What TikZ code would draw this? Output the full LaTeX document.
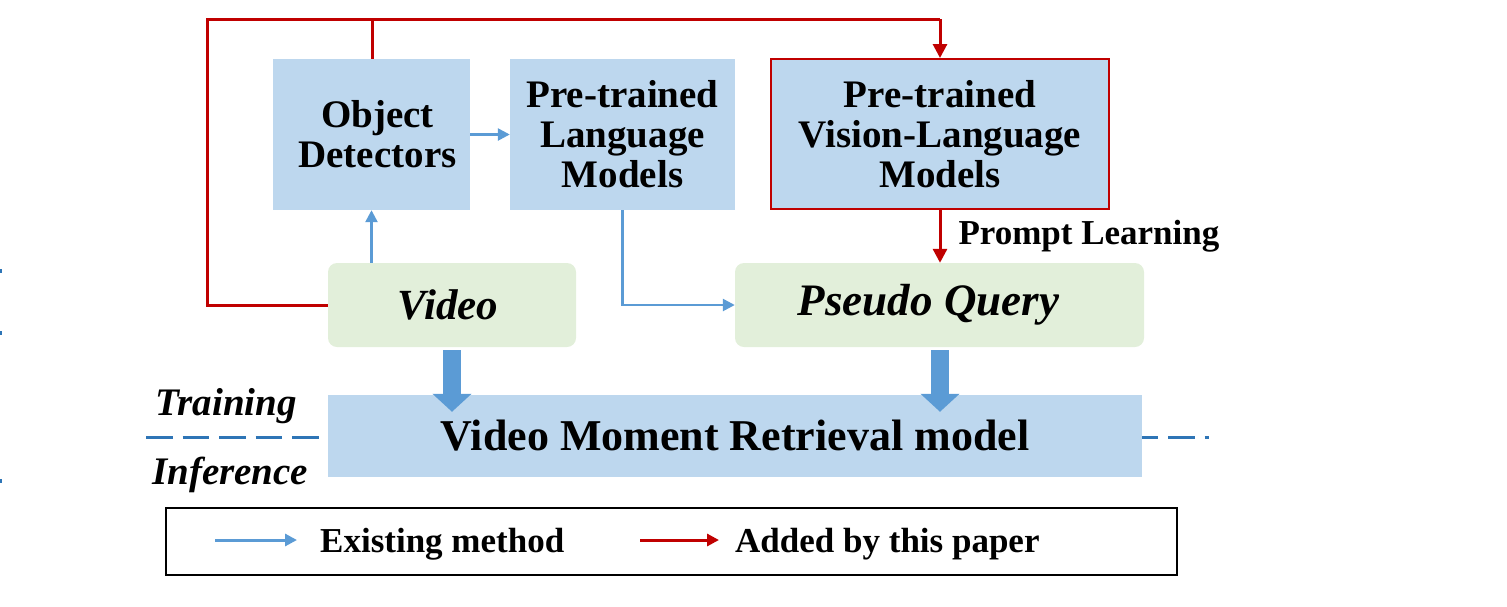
\documentclass[tikz,border=0pt]{standalone}
\usepackage{fontspec}
\setmainfont{Liberation Serif}
\usetikzlibrary{arrows.meta}
\definecolor{boxblue}{HTML}{BDD7EE}
\definecolor{boxgreen}{HTML}{E2EFDA}
\definecolor{arrblue}{HTML}{5B9BD5}
\definecolor{dashblue}{HTML}{2E75B6}
\definecolor{myred}{HTML}{C00000}
\tikzset{
  bluebox/.style={fill=boxblue, draw=none, align=center, inner sep=0pt, font=\bfseries\fontsize{39}{40}\selectfont},
  greenbox/.style={fill=boxgreen, draw=none, rounded corners=9pt, inner sep=0pt, font=\bfseries\itshape\fontsize{43}{44}\selectfont},
  bluearrow/.style={draw=arrblue, line width=2.5pt, -{Triangle[length=12pt,width=12pt]}},
  redline/.style={draw=myred, line width=3pt},
  redarrow/.style={redline, -{Triangle[length=14pt,width=14pt]}},
  blockarrow/.style={draw=arrblue, line width=18pt, -{Triangle[length=18pt,width=38pt]}},
  lbl/.style={inner sep=0pt, font=\bfseries\fontsize{35}{36}\selectfont},
}
\begin{document}
\begin{tikzpicture}[x=1pt,y=-1pt]
\useasboundingbox (0,0) rectangle (1507,606);
% tiny marks at left edge
\fill[dashblue] (0,269) rectangle (2,273);
\fill[dashblue] (0,331) rectangle (2,335);
\fill[dashblue] (0,479) rectangle (2,483);

% dashed training/inference line
\coordinate (dl) at (146,437);
\coordinate (dr) at (1209,437);
\draw[dashblue, line width=3pt, dash pattern=on 26.5pt off 10pt] (dl) -- (dr);

% boxes
\node[bluebox, minimum width=197pt, minimum height=151pt, text width=197pt] (od) at (371.5,134.5) {\hspace*{12pt}Object\\\hspace*{12pt}Detectors};
\node[bluebox, minimum width=225pt, minimum height=151pt] (plm) at (622.5,134.5) {Pre-trained\\Language\\Models};
\node[bluebox, draw=myred, line width=2pt, minimum width=338pt, minimum height=150pt] (vlm) at (940,134) {Pre-trained\\Vision-Language\\Models};
\node[greenbox, minimum width=248pt, minimum height=84pt] (video) at (452,305) {\hspace*{-8pt}Video};
\node[greenbox, minimum width=409pt, minimum height=84pt, font=\bfseries\itshape\fontsize{45}{46}\selectfont] (pq) at (939.5,305) {Pseudo Query\hspace*{22pt}};
\node[fill=boxblue, inner sep=0pt, minimum width=814pt, minimum height=82pt, font=\bfseries\fontsize{44}{45}\selectfont] (vmr) at (735,436) {Video Moment Retrieval model};

% side labels
\node[font=\bfseries\itshape\fontsize{39}{40}\selectfont, inner sep=0pt, anchor=base west] (train) at (155,415) {Training};
\node[font=\bfseries\itshape\fontsize{39}{40}\selectfont, inner sep=0pt, anchor=base west] (infer) at (152,484) {Inference};

% blue arrows
\draw[bluearrow] (video.north -| od.south) -- (od.south);
\draw[bluearrow] (od.east) -- (plm.west);
\draw[bluearrow] (plm.south) |- (pq.west);

% block arrows
\draw[blockarrow] ([yshift=-3pt]video.south) -- ([yshift=-17pt]vmr.north -| video.south);
\draw[blockarrow] ([yshift=-3pt]pq.south -| vlm.south) -- ([yshift=-17pt]vmr.north -| vlm.south);

% red lines
\coordinate (rl) at (207,19);
\coordinate (rt) at (940,19);
\coordinate (rj) at (372,19);
\draw[redline] (video.west) -| (rl) -- (rt);
\draw[redarrow] (rt) -- (vlm.north);
\draw[redline] (rj) -- (rj |- od.north);
\draw[redarrow] (vlm.south) -- (pq.north -| vlm.south)
  node[midway, right=17pt, font=\bfseries\fontsize{35}{36}\selectfont, inner sep=0pt] (pl) {Prompt Learning};

% legend
\node[draw=black, line width=2pt, minimum width=1011pt, minimum height=67pt, inner sep=0pt] (leg) at (671.5,541.5) {};
\coordinate (b1) at (215,540);
\coordinate (b2) at (297,540);
\coordinate (r1) at (640,540);
\coordinate (r2) at (719,540);
\draw[draw=arrblue, line width=3pt, -{Triangle[length=12pt,width=12pt]}] (b1) -- (b2);
\draw[draw=myred, line width=3pt, -{Triangle[length=12pt,width=12pt]}] (r1) -- (r2);
\node[lbl, anchor=base west] (l1) at (320,552) {Existing method};
\node[lbl, anchor=base west] (l2) at (735,552) {Added by this paper};
\end{tikzpicture}
\end{document}
